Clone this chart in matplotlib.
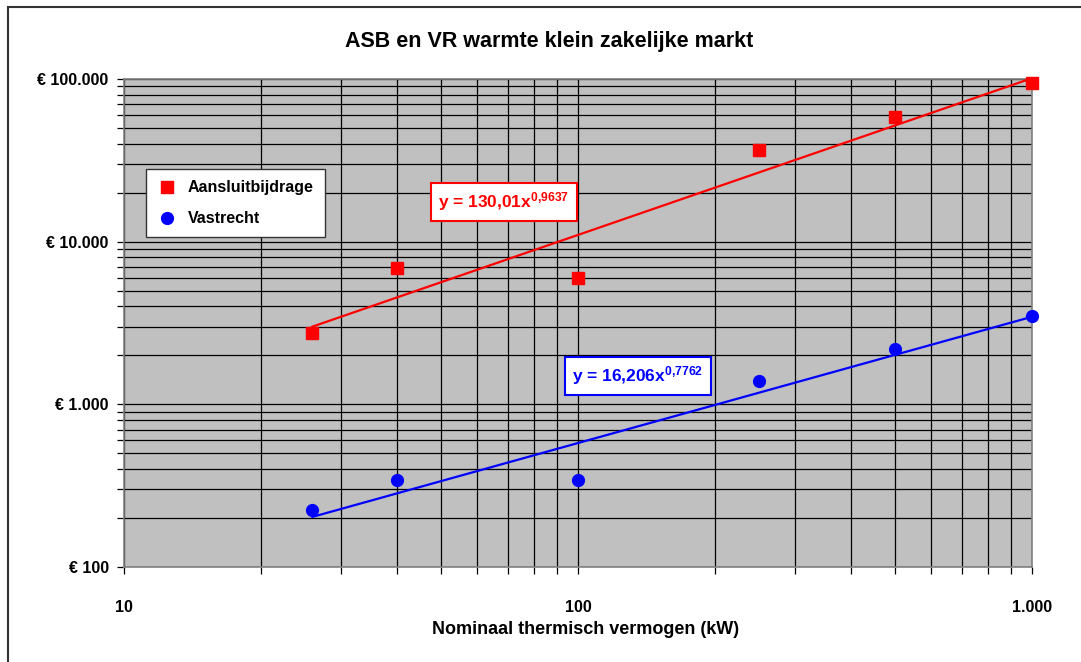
import matplotlib.pyplot as plt
from matplotlib.patches import Rectangle
from matplotlib.ticker import FixedLocator, LogLocator, NullFormatter

plt.rcParams['font.family'] = ['Liberation Sans', 'DejaVu Sans']
plt.rcParams['font.weight'] = 'bold'
plt.rcParams['mathtext.fontset'] = 'custom'
plt.rcParams['mathtext.rm'] = 'Liberation Sans:bold'
plt.rcParams['mathtext.it'] = 'Liberation Sans:bold'
plt.rcParams['mathtext.bf'] = 'Liberation Sans:bold'

# data
vermogen = [26, 40, 100, 250, 500, 1000]
aansluitbijdrage = [2750, 6900, 6000, 36500, 58000, 94000]
vastrecht = [224, 343, 343, 1390, 2190, 3500]

# power trendlines as printed on the chart
asb_coef, asb_exp = 130.01, 0.9637
vr_coef, vr_exp = 16.206, 0.7762
trend_x = [26, 1000]

y_ticks = [100, 1000, 10000, 100000]
y_labels = ['€ 100', '€ 1.000', '€ 10.000', '€ 100.000']
x_ticks = [10, 100, 1000]
x_labels = ['10', '100', '1.000']

fig = plt.figure(figsize=(10.81, 6.62), dpi=100)
fig.patches.append(Rectangle((8 / 1081, -0.05), 1.1, 1 - 7 / 662 + 0.05,
                             transform=fig.transFigure, fill=False,
                             edgecolor='#333333', linewidth=1.5))
ax = fig.add_axes([124 / 1081, 1 - 567 / 662, 908 / 1081, 488 / 662])
ax.set_facecolor('#C0C0C0')
ax.set_xscale('log')
ax.set_yscale('log')
ax.set_xlim(10, 1000)
ax.set_ylim(100, 100000)

ax.grid(True, which='both', color='black', linewidth=0.9)
ax.set_axisbelow(True)
for s in ax.spines.values():
    s.set_color('#808080')
    s.set_linewidth(1.2)

ax.xaxis.set_major_locator(FixedLocator(x_ticks))
ax.set_xticklabels(x_labels)
ax.xaxis.set_minor_locator(LogLocator(base=10, subs=range(2, 10)))
ax.xaxis.set_minor_formatter(NullFormatter())
ax.yaxis.set_major_locator(FixedLocator(y_ticks))
ax.set_yticklabels(y_labels)
ax.yaxis.set_minor_locator(LogLocator(base=10, subs=range(2, 10)))
ax.yaxis.set_minor_formatter(NullFormatter())
ax.tick_params(which='both', direction='out', length=5, color='black', width=0.9)
ax.tick_params(axis='x', labelsize=11.5, pad=19)
ax.tick_params(axis='y', labelsize=11.5, pad=6)

asb_trend = [asb_coef * x ** asb_exp for x in trend_x]
vr_trend = [vr_coef * x ** vr_exp for x in trend_x]
ax.plot(trend_x, asb_trend, color='#FF0000', linewidth=1.6, zorder=3)
ax.plot(trend_x, vr_trend, color='#0000FF', linewidth=1.6, zorder=3)

ax.plot(vermogen, aansluitbijdrage, 's', color='#FF0000', markersize=9,
        label='Aansluitbijdrage', clip_on=False, zorder=4)
ax.plot(vermogen, vastrecht, 'o', color='#0000FF', markersize=8.5,
        label='Vastrecht', clip_on=False, zorder=4)

leg = ax.legend(loc='upper left', bbox_to_anchor=(22 / 908, 1 - 90 / 488),
                borderaxespad=0, frameon=True, fancybox=False, fontsize=11.5,
                handletextpad=0.7, borderpad=0.7, labelspacing=1.0, handlelength=1.2)
leg.get_frame().set_edgecolor('#333333')
leg.get_frame().set_linewidth(1.0)
leg.get_frame().set_facecolor('white')
leg.get_frame().set_alpha(1)

ax.text(380 / 908, 1 - 123 / 488,
        f'y = {asb_coef:.2f}'.replace('.', ',') + 'x$^{' + f'{asb_exp}'.replace('.', '{,}') + '}$',
        transform=ax.transAxes, ha='center', va='center', fontsize=12.5,
        color='#FF0000', fontweight='bold',
        bbox=dict(boxstyle='square,pad=0.45', facecolor='white', edgecolor='#FF0000', linewidth=1.5),
        zorder=5)
ax.text(514 / 908, 1 - 297 / 488,
        f'y = {vr_coef:.3f}'.replace('.', ',') + 'x$^{' + f'{vr_exp}'.replace('.', '{,}') + '}$',
        transform=ax.transAxes, ha='center', va='center', fontsize=12.5,
        color='#0000FF', fontweight='bold',
        bbox=dict(boxstyle='square,pad=0.45', facecolor='white', edgecolor='#0000FF', linewidth=1.5),
        zorder=5)

fig.text(549 / 1081, 1 - 42 / 662, 'ASB en VR warmte klein zakelijke markt',
         ha='center', va='center', fontsize=15.5, fontweight='bold')
fig.text(586 / 1081, 1 - 630 / 662, 'Nominaal thermisch vermogen (kW)',
         ha='center', va='center', fontsize=13, fontweight='bold')

fig.savefig('out.png', dpi=100)
